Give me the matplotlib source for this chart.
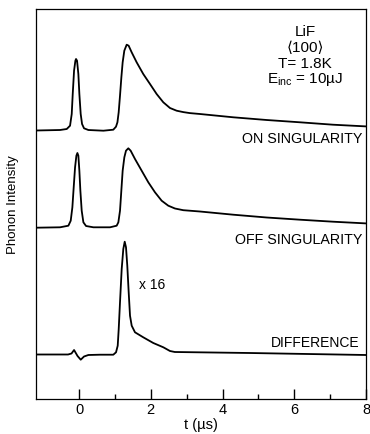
import matplotlib
matplotlib.use("Agg")
import matplotlib.pyplot as plt
from matplotlib.ticker import FixedLocator

plt.rcParams['font.family'] = ['Liberation Sans', 'DejaVu Sans']

# Time axis in microseconds; intensities in arbitrary plot units (traces offset vertically)
on_t = [-1.2, -0.53, -0.343, -0.251, -0.204, -0.176, -0.139, -0.102, -0.084, -0.056,
        -0.019, 0.009, 0.046, 0.084, 0.139, 0.26, 0.68, 0.955, 1.03, 1.07, 1.105,
        1.142, 1.18, 1.216, 1.262, 1.328, 1.383, 1.467, 1.606, 1.79, 1.978, 2.163,
        2.349, 2.535, 2.72, 2.906, 3.09, 3.37, 4.3, 5.23, 6.16, 7.08, 8.0]
on_y = [268.5, 269, 270, 273.3, 285, 305, 328.3, 338.3, 340, 338.3,
        325, 305, 285, 275, 270.7, 269, 268.3, 269.3, 272.3, 276.7, 286.7,
        303.3, 321.7, 336.7, 348.3, 354.3, 353.3, 346.7, 336.7, 325, 315, 305,
        296.7, 291, 288.3, 286.9, 285.9, 285, 281.7, 279, 276.7, 274.3, 272.6]

off_t = [-1.2, -0.53, -0.297, -0.232, -0.186, -0.149, -0.111, -0.074, -0.046, -0.019,
         0.009, 0.037, 0.074, 0.121, 0.195, 0.4, 0.864, 1.049, 1.096, 1.142, 1.179,
         1.216, 1.263, 1.309, 1.374, 1.439, 1.56, 1.746, 1.931, 2.117, 2.303, 2.488,
         2.674, 2.906, 3.37, 4.3, 5.23, 6.16, 7.08, 8.0]
off_y = [171.3, 171.7, 173.3, 178.3, 191.7, 211.7, 231.7, 243.3, 246, 243.3,
         228.3, 208.3, 188.3, 176.7, 173, 171.7, 171.7, 173.3, 176.7, 188.3, 208.3,
         228.3, 241.7, 248.3, 250.7, 248.3, 240, 228.3, 216.7, 206.7, 198.3, 193.3,
         190.5, 188.8, 187.5, 184.3, 181.5, 179.3, 177.3, 175.6]

diff_t = [-1.2, -0.306, -0.21, -0.139, -0.042, 0.047, 0.139, 0.26, 0.585, 0.955,
          1.031, 1.078, 1.106, 1.142, 1.189, 1.234, 1.273, 1.309, 1.345, 1.384,
          1.421, 1.468, 1.56, 1.79, 2.07, 2.35, 2.535, 2.67, 4.76, 8.0]
diff_y = [44.5, 44.5, 45.5, 49, 43, 39.3, 42.5, 44, 44.3, 44.3,
          46.7, 53.3, 70, 96.7, 130, 150, 157.3, 151.7, 133.3, 106.7,
          83.3, 73.3, 66.7, 61.7, 56, 51.7, 48, 47, 46, 44]

major_ticks = [0, 2, 4, 6, 8]
minor_ticks = [1, 3, 5, 7]

fig = plt.figure(figsize=(3.7, 4.35), dpi=100)
ax = fig.add_axes([36 / 370, 1 - 400 / 435, 330 / 370, 390 / 435])

for t, y in ((on_t, on_y), (off_t, off_y), (diff_t, diff_y)):
    ax.plot(t, y, color='black', lw=1.3, solid_joinstyle='round')

ax.set_xlim(-1.2, 8)
ax.set_ylim(0, 390)

ax.xaxis.set_major_locator(FixedLocator(major_ticks))
ax.xaxis.set_minor_locator(FixedLocator(minor_ticks))
ax.set_xticklabels([str(v) for v in major_ticks])
ax.tick_params(axis='x', which='major', direction='in', length=7, width=1,
               labelsize=10.5, pad=2)
ax.tick_params(axis='x', which='minor', direction='in', length=3.5, width=1)
ax.set_yticks([])
for s in ax.spines.values():
    s.set_linewidth(0.9)

ax.set_xlabel('t (µs)', fontsize=10.5, labelpad=1)
ax.set_ylabel('Phonon Intensity', fontsize=9.5, labelpad=12)

# sample description block
info_x = 6.3
ax.text(info_x, 368, 'LiF', ha='center', va='center', fontsize=11)
ax.text(info_x, 352, '⟨100⟩', ha='center', va='center', fontsize=11)
ax.text(info_x, 336, 'T= 1.8K', ha='center', va='center', fontsize=11)
ax.text(info_x, 320, r'E$_\mathregular{inc}$ = 10µJ', ha='center', va='center', fontsize=11)

ax.text(7.91, 261, 'ON SINGULARITY', ha='right', va='center', fontsize=10.3)
ax.text(7.91, 160, 'OFF SINGULARITY', ha='right', va='center', fontsize=10.3)
ax.text(7.83, 57, 'DIFFERENCE', ha='right', va='center', fontsize=10)
ax.text(2.03, 115, 'x 16', ha='center', va='center', fontsize=10)

fig.savefig('out.png', dpi=100)
